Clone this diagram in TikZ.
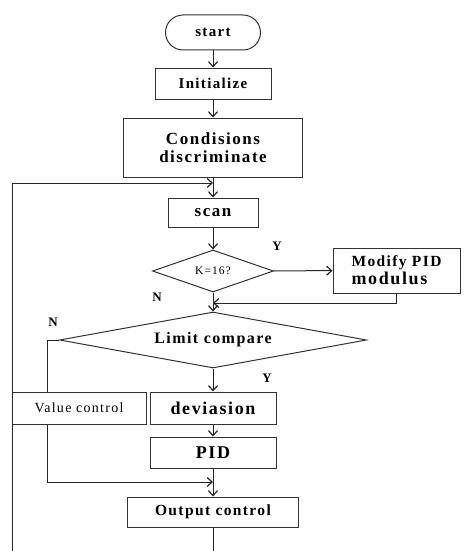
\documentclass[tikz,border=0pt]{standalone}
\usepackage{fontspec}
\newfontfamily\flowfont[LetterSpace=9]{Liberation Serif}
\usetikzlibrary{shapes.geometric,arrows.meta}

\begin{document}
\begin{tikzpicture}[x=1pt, y=-1pt,
				>={Straight Barb[length=5pt,width=9pt,line width=1.2pt]},   %arrow tips
				box/.style={draw=black!80, line width=1pt, inner sep=0pt, minimum width=#1},
				test/.style={draw=black!80, line width=1pt, diamond, inner sep=0pt},
				line/.style={draw=black!85, line width=1pt},
				fs/.style={font=\flowfont\bfseries\fontsize{#1}{18}\selectfont},
				fs=15]
				\useasboundingbox (0,0) rectangle (465,551);
				% nodes
				\node[box=95, minimum height=35, rounded corners=17.5pt] (start) at (213,32.5) {start};
				\node[box=116, minimum height=31] (init) at (213,83.5) {Initialize};
				\node[box=179, minimum height=59, align=center, fs=17] (cond) at (213,147.5) {Condisions\\discriminate};
				\node[box=90, minimum height=29, fs=17] (scan) at (213,212.5) {scan};
				\node[test, minimum width=121, minimum height=42, aspect=2.9,
					font=\flowfont\fontsize{11.5}{12}\selectfont] (kdec) at (213,271) {K=16?};
				\node[box=127, minimum height=45, align=left, fs=15.5] (mod) at (396.5,270.5)
					{Modify PID\\{\fontsize{18}{20}\selectfont modulus}};
				\node[test, minimum width=307, minimum height=56, aspect=5.5, fs=16] (limit) at (213,340) {Limit compare};
				\node[box=134, minimum height=32, font=\flowfont\fontsize{14}{14}\selectfont] (valctl) at (79,408) {Value control};
				\node[box=126, minimum height=32, fs=18] (dev) at (213,408) {deviasion};
				\node[box=126, minimum height=31, fs=18] (pid) at (213,452.5) {PID};
				\node[box=171, minimum height=30, fs=15.5] (out) at (213,512) {Output control};
				% labels
				\node[fs=13] (ky) at (277,246) {Y};
				\node[fs=13] (kn) at (157,297) {N};
				\node[fs=13] (ln) at (53,322) {N};
				\node[fs=13] (ly) at (267,378) {Y};
				% helper points
				\coordinate (kjoin) at (213,303);
				\coordinate (nturn) at (47,340);
				\coordinate (vjoin) at (213,482);
				\coordinate (outend) at (213,551);
				\coordinate (loopend) at (12,551);
				\coordinate (loopin) at (213,183);
				% connectors
				\draw[line,->] (start) -- (init);
				\draw[line,->] (init) -- (cond);
				\draw[line,->] (cond) -- (scan);
				\draw[line,->] (scan) -- (kdec);
				\draw[line,->] (kdec) -- (mod);
				\draw[line,->] (kdec) -- (limit);
				\draw[line,->] (mod.south) |- (kjoin);
				\draw[line,->] (limit) -- (dev);
				\draw[line,->] (dev) -- (pid);
				\draw[line,->] (pid) -- (out);
				\draw[line] (limit.west) -- (nturn) -- (nturn |- valctl.north);
				\draw[line,->] (nturn |- valctl.south) |- (vjoin);
				\draw[line] (out) -- (outend);
				\draw[line,->] (loopend) |- (loopin);
			\end{tikzpicture}
\end{document}
